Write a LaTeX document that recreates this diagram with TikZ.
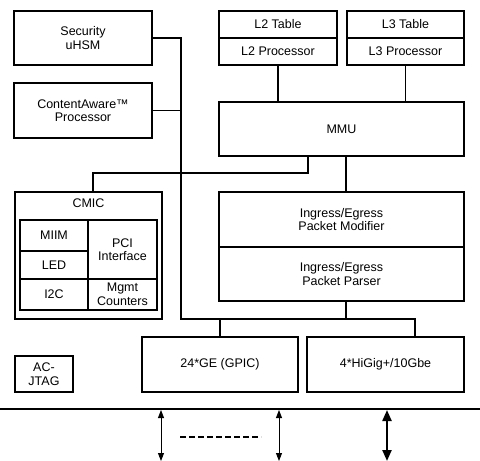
\documentclass[tikz,border=0pt]{standalone}
\usepackage{fontspec}
\setmainfont{Liberation Sans}
\usetikzlibrary{arrows.meta}
\begin{document}
\begin{tikzpicture}
[x=1pt,y=-1pt,line width=1.2pt,
 blk/.style 2 args={minimum width=#1pt,minimum height=#2pt},
 io/.style={{Triangle[length=8pt,width=6pt]}-{Triangle[length=8pt,width=6pt]},line width=0.9pt},
 iobig/.style={{Triangle[length=11pt,width=9pt]}-{Triangle[length=11pt,width=9pt]},line width=2.2pt},
 every node/.style=
   {rectangle,draw=black,align=center,inner sep=0pt,
    font=\fontsize{12.5}{13.5}\selectfont}]
\useasboundingbox (0,0) rectangle (480,461);

\node [blk={138}{54}] (sec) at (83,38) {Security\\uHSM};
\node [blk={138}{55}] (cap) at (83,110.5) {ContentAware™\\Processor};

\node [blk={118}{27}] (l2t) at (278,24.5) {L2 Table};
\node [blk={118}{27}] (l2p) at (278,51.5) {L2 Processor};
\node [blk={117}{27}] (l3t) at (405.5,24.5) {L3 Table};
\node [blk={117}{27}] (l3p) at (405.5,51.5) {L3 Processor};
\node [blk={245}{54}] (mmu) at (341.5,129) {MMU};
\node [blk={245}{55}] (mod) at (341.5,219.5) {Ingress/Egress\\Packet Modifier};
\node [blk={245}{54}] (par) at (341.5,274) {Ingress/Egress\\Packet Parser};

\begin{scope}
  \node [blk={147}{127}] (cmic) at (88.5,255.5) {};
  \node [draw=none] (cmiclbl) at (88.5,203) {CMIC};
  \node [blk={68}{31}] (miim) at (54,235.5) {MIIM};
  \node [blk={68}{28}] (led) at (54,265) {LED};
  \node [blk={68}{31}] (i2c) at (54,294.5) {I2C};
  \node [blk={69}{59}] (pci) at (122.5,249.5) {PCI\\Interface};
  \node [blk={69}{31}] (mgmt) at (122.5,294.5) {Mgmt\\Counters};
\end{scope}

\node [blk={58}{36}] (jtag) at (44,374) {AC-\\JTAG};
\node [blk={156}{55}] (ge) at (220,364.5) {24*GE (GPIC)};
\node [blk={157}{55}] (hig) at (385.5,364.5) {4*HiGig+/10Gbe};

\coordinate (hub) at (181,319);
\coordinate (higtap) at (415,319);
\coordinate (spine) at (346,0);
\coordinate (cmictap) at (308,173);

\draw (sec.east) -| (hub) -- (higtap) -- (higtap |- hig.north);
\draw (cap.east) -- (cap.east -| hub);
\draw (ge.north) -- (ge.north |- hub);
\draw (l2p.south) -- (l2p.south |- mmu.north);
\draw (l3p.south) -- (l3p.south |- mmu.north);
\draw (mmu.south -| spine) -- (mod.north -| spine);
\draw (par.south -| spine) -- (hub -| spine);
\draw (mmu.south -| cmictap) -- (cmictap) -| ([xshift=4.5pt]cmic.north);

% board edge and ports
\coordinate (railw) at (0,409);
\coordinate (raile) at (480,409);
\draw [line width=2.2pt] (railw) -- (raile);
\foreach \n/\x in {a/161,b/279,c/387}
  \coordinate (port\n) at (\x,410);
\draw [io] (porta) -- ++(0,51);
\draw [io] (portb) -- ++(0,51);
\draw [iobig] (portc) -- ++(0,51);
\draw [line width=1.6pt,dash pattern=on 6pt off 3pt] (180,437) -- (261,437);
\end{tikzpicture}
\end{document}
